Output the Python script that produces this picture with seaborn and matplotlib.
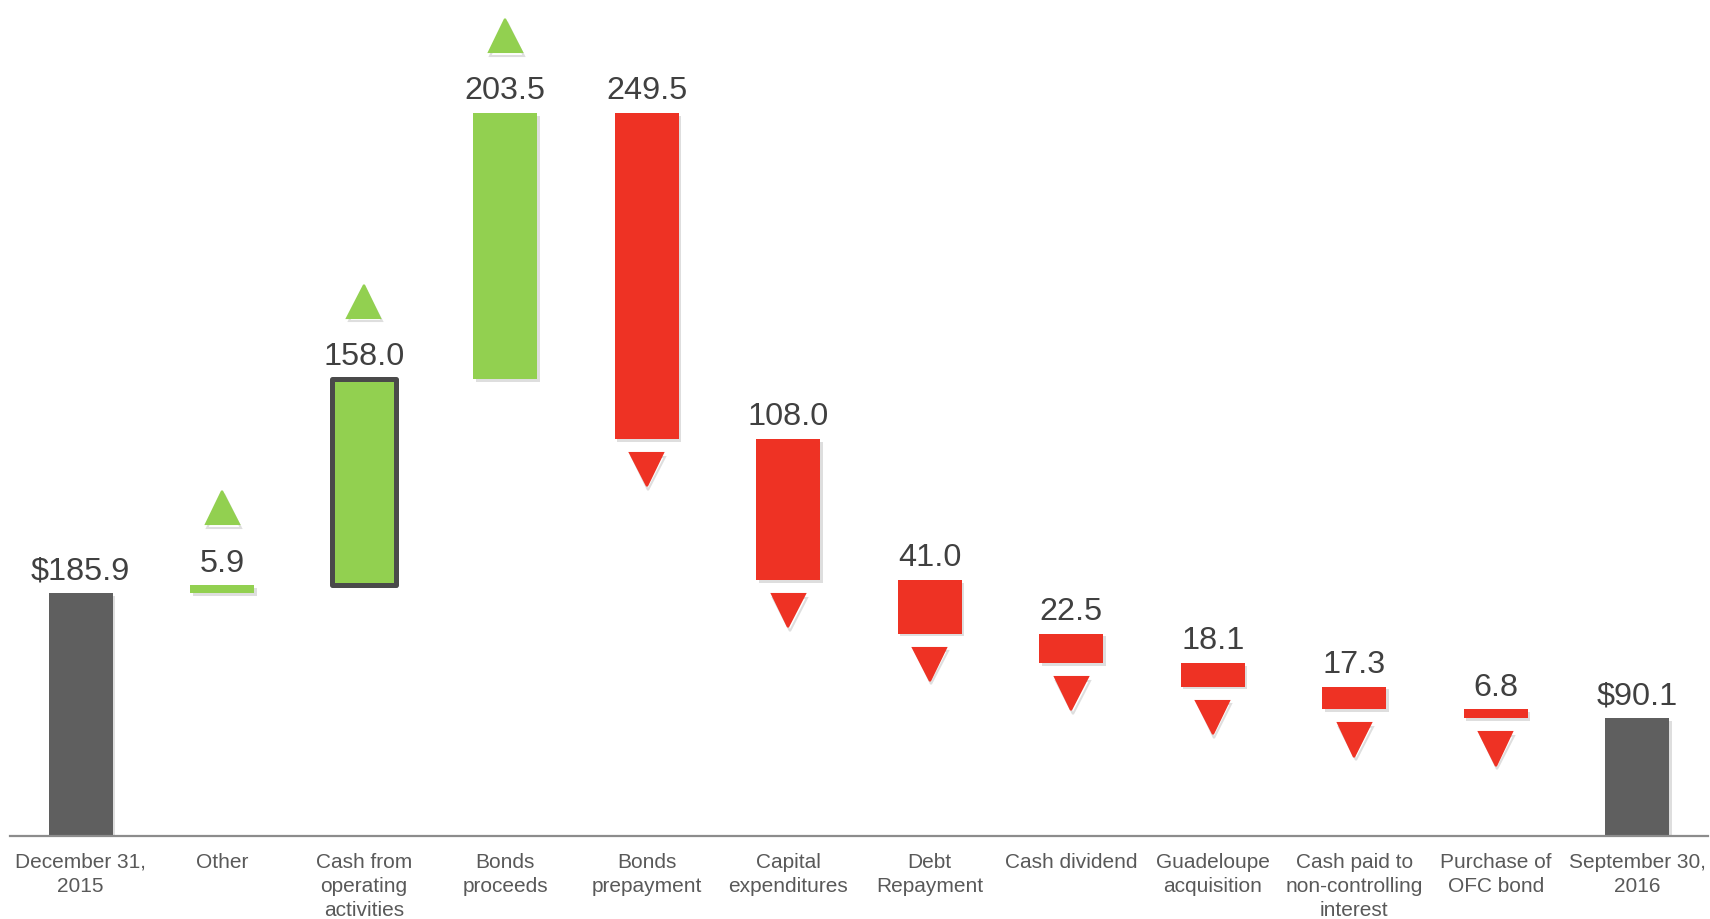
import numpy as np
import pandas as pd
import matplotlib
matplotlib.use("Agg")
import matplotlib.pyplot as plt
import matplotlib.patheffects as pe
import matplotlib.transforms as mtransforms
import seaborn as sns

# Cash bridge, December 31, 2015 -> September 30, 2016 (US$ millions)
categories = [
    "December 31,\n2015", "Other", "Cash from\noperating\nactivities",
    "Bonds\nproceeds", "Bonds\nprepayment", "Capital\nexpenditures",
    "Debt\nRepayment", "Cash dividend", "Guadeloupe\nacquisition",
    "Cash paid to\nnon-controlling\ninterest", "Purchase of\nOFC bond",
    "September 30,\n2016",
]
opening_balance = 185.9
changes = [5.9, 158.0, 203.5, -249.5, -108.0, -41.0, -22.5, -18.1, -17.3, -6.8]
closing_balance = 90.1

GREY = "#5f5f5f"
GREEN = "#92D050"
RED = "#EE3224"
TEXT = "#404040"
TICK = "#595959"

# Waterfall geometry: each change floats on the running total
running = opening_balance + np.concatenate([[0.0], np.cumsum(changes)])
change_base = np.where(np.array(changes) > 0, running[:-1], running[1:])
bases = np.concatenate([[0.0], change_base, [0.0]])
heights = np.concatenate([[opening_balance], np.abs(changes), [closing_balance]])
kinds = ["total"] + ["up" if c > 0 else "down" for c in changes] + ["total"]
labels = ([f"${opening_balance:.1f}"] + [f"{abs(c):.1f}" for c in changes]
          + [f"${closing_balance:.1f}"])
colors = [GREY if k == "total" else GREEN if k == "up" else RED for k in kinds]

df = pd.DataFrame({"category": categories, "height": heights})

sns.set_theme(style="white")
plt.rcParams["font.family"] = ["Liberation Sans", "DejaVu Sans"]

fig = plt.figure(figsize=(17.10, 9.19), dpi=100)
ax = fig.add_axes([10 / 1710, 1 - 836 / 919, 1698 / 1710, 836 / 919])

sns.barplot(data=df, x="category", y="height", bottom=bases, width=0.45,
            saturation=1, errorbar=None, color=GREY, ax=ax, zorder=2)

shadow = [pe.SimplePatchShadow(offset=(1.8, -1.8), shadow_rgbFace="k", alpha=0.14),
          pe.Normal()]
for i, (patch, col) in enumerate(zip(ax.patches, colors)):
    patch.set_facecolor(col)
    patch.set_edgecolor("none")
    patch.set_path_effects(shadow)
    if i == 2:
        # highlighted bar: cash from operating activities
        patch.set_edgecolor("#4a4a4a")
        patch.set_linewidth(3.6)
        patch.set_joinstyle("round")

marker_shadow = [pe.SimpleLineShadow(offset=(1.2, -2.5), shadow_color="k", alpha=0.14),
                 pe.Normal()]


def shifted(dy_points):
    return ax.transData + mtransforms.ScaledTranslation(0, dy_points / 72,
                                                        fig.dpi_scale_trans)


xs = np.arange(len(categories))
tops = bases + heights
for x, top, base, lab, kind in zip(xs, tops, bases, labels, kinds):
    ax.annotate(lab, (x, top), xytext=(0, 10), textcoords="offset points",
                ha="center", va="baseline", fontsize=23.3, color=TEXT)
    if kind == "up":
        ax.plot([x], [top], marker="^", markersize=24, color=GREEN,
                markeredgecolor=GREEN, markeredgewidth=1.5,
                transform=shifted(56), path_effects=marker_shadow,
                zorder=3, clip_on=False)
    elif kind == "down":
        ax.plot([x], [base], marker="v", markersize=24, color=RED,
                markeredgecolor=RED, markeredgewidth=1.5,
                transform=shifted(-22), path_effects=marker_shadow,
                zorder=3, clip_on=False)

ax.set_xlim(-0.5, len(categories) - 0.5)
ax.set_ylim(0, 640)
ax.set_xlabel("")
ax.set_ylabel("")
ax.set_yticks([])
for side in ["top", "left", "right"]:
    ax.spines[side].set_visible(False)
ax.spines["bottom"].set_color("#8c8c8c")
ax.spines["bottom"].set_linewidth(1.6)
ax.spines["bottom"].set_zorder(4)
ax.tick_params(axis="x", length=0, pad=12, labelsize=15, labelcolor=TICK)
for t in ax.get_xticklabels():
    t.set_linespacing(1.36)
ax.patch.set_alpha(0)

fig.savefig("out.png", dpi=100, facecolor="white")
